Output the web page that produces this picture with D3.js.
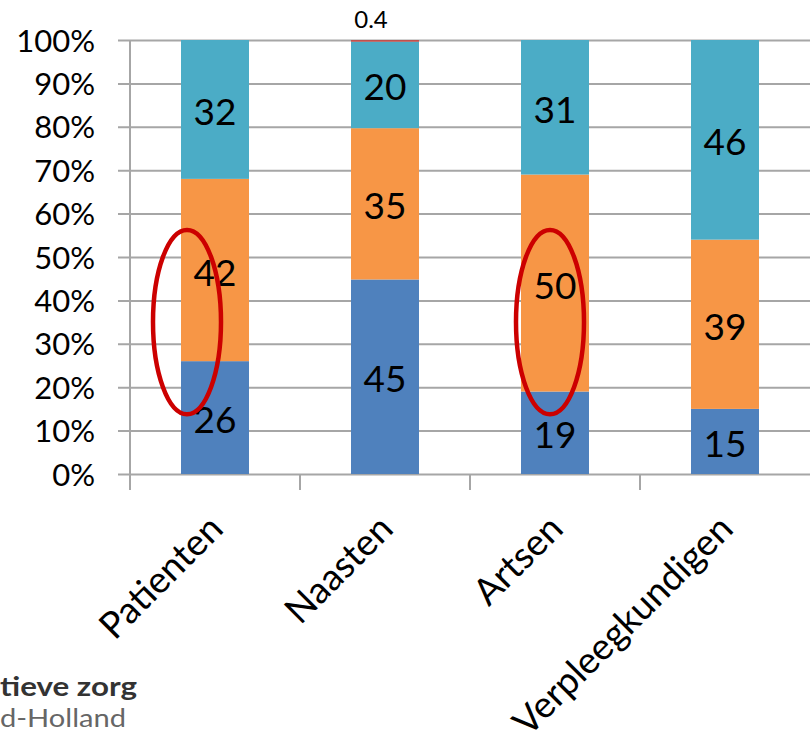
<!DOCTYPE html>
<html>
<head>
<meta charset="utf-8">
<script src="https://cdn.jsdelivr.net/npm/d3@7/dist/d3.min.js"></script>
<style>
  html, body { margin: 0; padding: 0; background: #fff; }
  svg { display: block; font-family: Lato, "Open Sans", sans-serif; }
</style>
</head>
<body>
<svg id="chart" width="810" height="748"></svg>
<script>
// ---- data ----
const categories = ["Patienten", "Naasten", "Artsen", "Verpleegkundigen"];
const seriesNames = ["s1", "s2", "s3", "s4"];
const series1 = [26, 45, 19, 15];
const series2 = [42, 35, 50, 39];
const series3 = [32, 20, 31, 46];
const series4 = [0, 0.4, 0, 0];
const seriesColors = ["#4F81BD", "#F79646", "#4BACC6", "#C0504D"];
const yTickValues = [0, 0.1, 0.2, 0.3, 0.4, 0.5, 0.6, 0.7, 0.8, 0.9, 1.0];
const highlighted = ["Patienten", "Artsen"];
const logoLines = ["tieve zorg", "d-Holland"];

// ---- build stacked (100%) data ----
const allSeries = [series1, series2, series3, series4];
const rows = categories.map((c, i) => {
  const r = { cat: c };
  seriesNames.forEach((s, k) => r[s] = allSeries[k][i]);
  return r;
});
const stack = d3.stack().keys(seriesNames).offset(d3.stackOffsetExpand);
const stacked = stack(rows);

const svg = d3.select("#chart");
const pLeft = 130, pRight = 810, pTop = 40, pBottom = 474;

const x = d3.scaleBand().domain(categories).range([pLeft, pRight])
  .paddingInner(0.6).paddingOuter(0.3);
const y = d3.scaleLinear().domain([0, 1]).range([pBottom, pTop]);

// gridlines + y labels
const yAxis = d3.axisLeft(y).tickValues(yTickValues)
  .tickFormat(d3.format(".0%"))
  .tickSize(-(pRight - 118)).tickPadding(23);
const gy = svg.append("g").attr("transform", "translate(118,0)").call(yAxis);
gy.select(".domain").remove();
gy.selectAll(".tick line").attr("stroke", "#A6A6A6").attr("stroke-width", 2);
gy.selectAll(".tick text").attr("fill", "#000").style("font-size", "31px")
  .style("font-family", "Lato, sans-serif").attr("dy", "0.36em");

// bars
const layer = svg.append("g").selectAll("g").data(stacked).join("g")
  .attr("fill", (d, i) => seriesColors[i]);
layer.selectAll("rect").data(d => d.map(p => ({ p, key: d.key }))).join("rect")
  .attr("x", d => x(d.p.data.cat))
  .attr("width", x.bandwidth())
  .attr("y", d => y(d.p[1]))
  .attr("height", d => Math.max(0, y(d.p[0]) - y(d.p[1])));

// y axis line & x ticks
svg.append("line").attr("x1", pLeft).attr("x2", pLeft).attr("y1", pTop).attr("y2", pBottom + 16)
  .attr("stroke", "#A6A6A6").attr("stroke-width", 2);
categories.slice(1).forEach(c => {
  const b = x(c) - (x.step() - x.bandwidth()) / 2;
  svg.append("line").attr("x1", b).attr("x2", b).attr("y1", pBottom).attr("y2", pBottom + 16)
    .attr("stroke", "#A6A6A6").attr("stroke-width", 2);
});

// value labels
stacked.forEach((s, k) => {
  s.forEach((p, i) => {
    const v = allSeries[k][i];
    if (!v) return;
    const cx = x(categories[i]) + x.bandwidth() / 2;
    if (v < 2) {
      svg.append("text").attr("x", cx - 14).attr("y", y(p[1]) - 12)
        .attr("text-anchor", "middle").style("font-size", "24px").attr("fill", "#000")
        .text(v);
    } else {
      svg.append("text").attr("x", cx).attr("y", (y(p[0]) + y(p[1])) / 2)
        .attr("dy", "0.42em").attr("text-anchor", "middle")
        .style("font-size", "37px").attr("fill", "#000").text(v);
    }
  });
});

// x labels
categories.forEach(c => {
  const cx = x(c) + x.bandwidth() / 2;
  svg.append("text")
    .attr("transform", `translate(${cx + 10},${pBottom + 57}) rotate(-45)`)
    .attr("text-anchor", "end").style("font-size", "37px").attr("fill", "#000")
    .text(c);
});

// highlight ellipses
const ellipseOffsets = { "Patienten": -28, "Artsen": -5 };
highlighted.forEach(c => {
  svg.append("ellipse")
    .attr("cx", x(c) + x.bandwidth() / 2 + ellipseOffsets[c])
    .attr("cy", y(0.35))
    .attr("rx", 34)
    .attr("ry", (y(0.14) - y(0.565)) / 2)
    .attr("fill", "none").attr("stroke", "#CC0000").attr("stroke-width", 4.5);
});

// logo text fragment (cropped logo in the reference)
svg.append("text").attr("x", 0).attr("y", 696)
  .style("font-size", "26px").style("font-weight", "bold").attr("fill", "#333")
  .attr("textLength", 137).attr("lengthAdjust", "spacingAndGlyphs")
  .text(logoLines[0]);
svg.append("text").attr("x", 0).attr("y", 727)
  .style("font-size", "25px").attr("fill", "#666")
  .attr("textLength", 126).attr("lengthAdjust", "spacingAndGlyphs")
  .text(logoLines[1]);
</script>
</body>
</html>
